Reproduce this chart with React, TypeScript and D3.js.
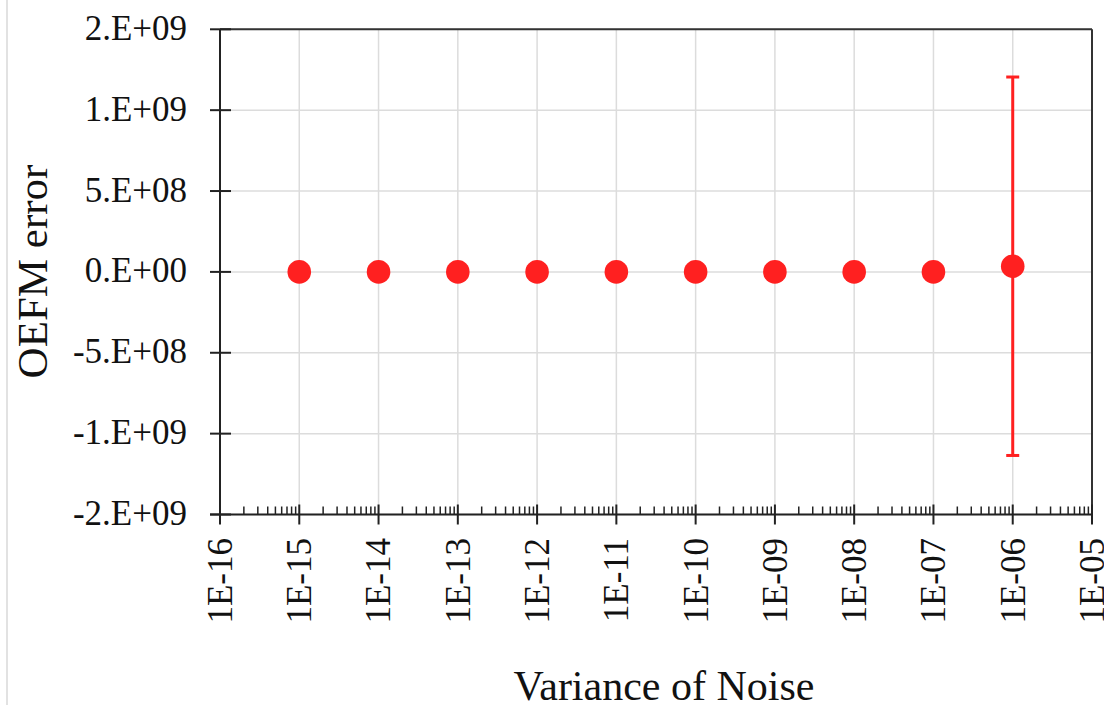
import React from 'react';
import * as d3 from 'd3';

// noise variance (x) and OEFM error mean / std (y)
const variances = [1e-15, 1e-14, 1e-13, 1e-12, 1e-11, 1e-10, 1e-9, 1e-8, 1e-7, 1e-6];
const errorMeans = [0, 0, 0, 0, 0, 0, 0, 0, 0, 3.5e7];
const errorStd = [0, 0, 0, 0, 0, 0, 0, 0, 0, 1.17e9];

const xTickValues = [1e-16, 1e-15, 1e-14, 1e-13, 1e-12, 1e-11, 1e-10, 1e-9, 1e-8, 1e-7, 1e-6, 1e-5];
const xTickLabels = ['1E-16', '1E-15', '1E-14', '1E-13', '1E-12', '1E-11', '1E-10', '1E-09', '1E-08', '1E-07', '1E-06', '1E-05'];
const yTickValues = [-1.5e9, -1e9, -5e8, 0, 5e8, 1e9, 1.5e9];
const yTickLabels = ['-2.E+09', '-1.E+09', '-5.E+08', '0.E+00', '5.E+08', '1.E+09', '2.E+09'];

const App = () => {
  const width = 1104;
  const height = 705;
  const left = 220;
  const right = 1092;
  const top = 29.3;
  const bottom = 514.5;
  const font = '"Liberation Serif", "Times New Roman", serif';
  const red = '#ff2020';

  const x = d3.scaleLog().domain([1e-16, 1e-5]).range([left, right]);
  const y = d3.scaleLinear().domain([-1.5e9, 1.5e9]).range([bottom, top]);

  // minor ticks 2..9 in each decade
  const minor: number[] = [];
  for (let k = -16; k < -5; k++) {
    for (let m = 2; m <= 9; m++) minor.push(m * Math.pow(10, k));
  }

  return (
    <svg width={width} height={height} style={{ position: 'absolute', left: 0, top: 0, background: '#fff' }}>
      <line x1={7} x2={7} y1={0} y2={height} stroke="#cfcfcf" strokeWidth={1.2} />

      {/* grid */}
      {yTickValues.map((v) => (
        <line key={'gy' + v} x1={left} x2={right} y1={y(v)} y2={y(v)} stroke="#dcdcdc" strokeWidth={1.5} />
      ))}
      {xTickValues.slice(1, -1).map((v) => (
        <line key={'gx' + v} x1={x(v)} x2={x(v)} y1={top} y2={bottom} stroke="#dcdcdc" strokeWidth={1.5} />
      ))}

      {/* frame */}
      <line x1={left} x2={right} y1={top} y2={top} stroke="#333" strokeWidth={2} />
      <line x1={right} x2={right} y1={top} y2={bottom} stroke="#333" strokeWidth={2} />
      <line x1={left} x2={left} y1={top} y2={bottom} stroke="#222" strokeWidth={2} />
      <line x1={210} x2={right} y1={bottom} y2={bottom} stroke="#222" strokeWidth={2} />

      {/* y ticks */}
      {yTickValues.map((v, i) => (
        <g key={'yt' + v}>
          <line x1={210} x2={231} y1={y(v)} y2={y(v)} stroke="#222" strokeWidth={2} />
          <text x={187} y={y(v)} dy="0.3em" textAnchor="end" fontFamily={font} fontSize={35} fill="#111">
            {yTickLabels[i]}
          </text>
        </g>
      ))}

      {/* x ticks */}
      {minor.map((v) => (
        <line key={'mt' + v} x1={x(v)} x2={x(v)} y1={bottom - 8} y2={bottom} stroke="#222" strokeWidth={1.5} />
      ))}
      {xTickValues.map((v, i) => (
        <g key={'xt' + v}>
          <line x1={x(v)} x2={x(v)} y1={bottom - 10} y2={bottom + 10} stroke="#222" strokeWidth={2} />
          <text
            transform={`translate(${x(v)},538) rotate(-90)`}
            dy="0.34em"
            textAnchor="end"
            fontFamily={font}
            fontSize={35}
            fill="#111"
          >
            {xTickLabels[i]}
          </text>
        </g>
      ))}

      {/* error bars */}
      {variances.map((v, i) =>
        errorStd[i] > 0 ? (
          <g key={'eb' + v} stroke={red} strokeWidth={3}>
            <line x1={x(v)} x2={x(v)} y1={y(errorMeans[i] + errorStd[i])} y2={y(errorMeans[i] - errorStd[i])} />
            <line x1={x(v) - 6.5} x2={x(v) + 6.5} y1={y(errorMeans[i] + errorStd[i])} y2={y(errorMeans[i] + errorStd[i])} />
            <line x1={x(v) - 6.5} x2={x(v) + 6.5} y1={y(errorMeans[i] - errorStd[i])} y2={y(errorMeans[i] - errorStd[i])} />
          </g>
        ) : null
      )}

      {/* points */}
      {variances.map((v, i) => (
        <circle key={'pt' + v} cx={x(v)} cy={y(errorMeans[i])} r={11.8} fill={red} />
      ))}

      {/* axis titles */}
      <text x={664} y={700} textAnchor="middle" fontFamily={font} fontSize={42} fill="#111">
        Variance of Noise
      </text>
      <text transform="translate(47,271.5) rotate(-90)" textAnchor="middle" fontFamily={font} fontSize={43} fill="#111">
        OEFM error
      </text>
    </svg>
  );
};

export default App;
